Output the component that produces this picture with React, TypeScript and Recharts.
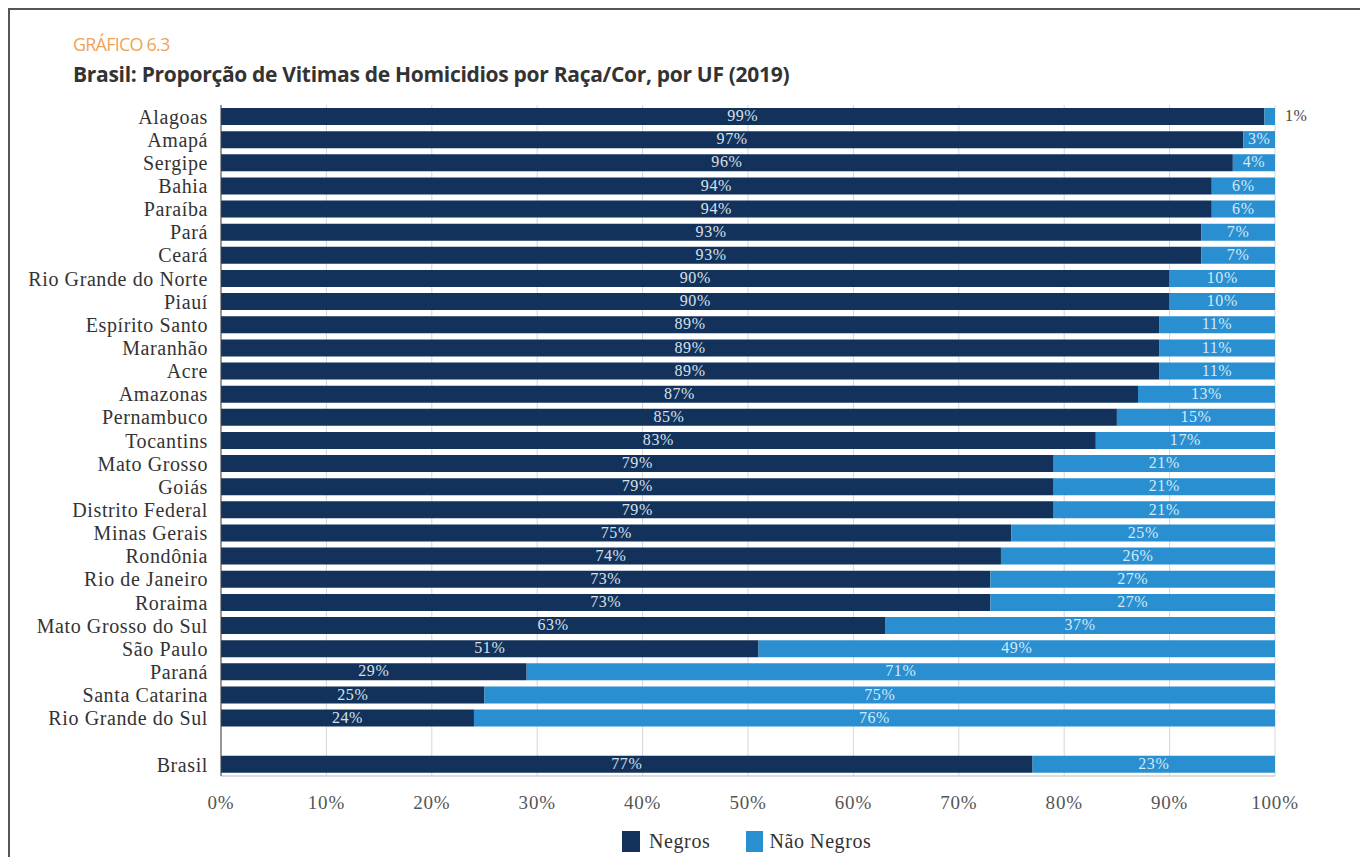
import { BarChart, Bar, XAxis, YAxis, CartesianGrid, LabelList } from "recharts";

const estados = [
  "Alagoas", "Amapá", "Sergipe", "Bahia", "Paraíba", "Pará", "Ceará",
  "Rio Grande do Norte", "Piauí", "Espírito Santo", "Maranhão", "Acre",
  "Amazonas", "Pernambuco", "Tocantins", "Mato Grosso", "Goiás",
  "Distrito Federal", "Minas Gerais", "Rondônia", "Rio de Janeiro",
  "Roraima", "Mato Grosso do Sul", "São Paulo", "Paraná",
  "Santa Catarina", "Rio Grande do Sul", "", "Brasil",
];

const negros = [
  99, 97, 96, 94, 94, 93, 93, 90, 90, 89, 89, 89, 87, 85, 83, 79, 79, 79,
  75, 74, 73, 73, 63, 51, 29, 25, 24, null, 77,
];

const naoNegros = [
  1, 3, 4, 6, 6, 7, 7, 10, 10, 11, 11, 11, 13, 15, 17, 21, 21, 21, 25, 26,
  27, 27, 37, 49, 71, 75, 76, null, 23,
];

const xTicks = [0, 10, 20, 30, 40, 50, 60, 70, 80, 90, 100];

const data = estados.map((uf, i) => ({
  uf,
  negros: negros[i],
  naoNegros: naoNegros[i],
}));

const DARK = "#12325b";
const LIGHT = "#2a8fd0";
const SERIF = "'Liberation Serif', 'Times New Roman', serif";

const labelNegros = (props: any) => {
  const { x, y, width, height, value } = props;
  if (value == null) return null;
  return (
    <text
      x={x + width / 2}
      y={y + height / 2 + 1}
      textAnchor="middle"
      dominantBaseline="middle"
      fill="#d8e0ea"
      fontSize={16}
      letterSpacing={0.6}
      fontFamily={SERIF}
    >
      {value}%
    </text>
  );
};

const labelNaoNegros = (props: any) => {
  const { x, y, width, height, value } = props;
  if (value == null) return null;
  const fora = value < 2;
  return (
    <text
      x={fora ? x + width + 10 : x + width / 2}
      y={y + height / 2 + 1}
      textAnchor={fora ? "start" : "middle"}
      dominantBaseline="middle"
      fill={fora ? "#444" : "#d3e9f8"}
      fontSize={16}
      letterSpacing={0.6}
      fontFamily={SERIF}
    >
      {value}%
    </text>
  );
};

export default function App() {
  return (
    <div
      style={{
        position: "absolute",
        left: 0,
        top: 0,
        width: 1360,
        height: 857,
        background: "#fff",
        overflow: "hidden",
      }}
    >
      <div
        style={{
          position: "absolute",
          left: 8,
          top: 8,
          width: 1360,
          height: 860,
          borderLeft: "2px solid #555",
          borderTop: "2px solid #555",
        }}
      />
      <div
        style={{
          position: "absolute",
          left: 73,
          top: 32,
          fontFamily: "'Open Sans', sans-serif",
          fontSize: 18,
          color: "#f0a35a",
          letterSpacing: -0.8,
        }}
      >
        GRÁFICO 6.3
      </div>
      <div
        style={{
          position: "absolute",
          left: 73,
          top: 60,
          fontFamily: "'Open Sans', sans-serif",
          fontSize: 21,
          fontWeight: 700,
          color: "#333",
          letterSpacing: -0.3,
        }}
      >
        Brasil: Proporção de Vitimas de Homicidios por Raça/Cor, por UF (2019)
      </div>

      <div style={{ position: "absolute", left: 0, top: 0 }}>
        <BarChart
          width={1360}
          height={857}
          data={data}
          layout="vertical"
          margin={{ top: 105, right: 85, bottom: 51, left: 0 }}
          barCategoryGap={3}
        >
          <CartesianGrid horizontal={false} stroke="#d6d6d6" />
          <XAxis
            type="number"
            domain={[0, 100]}
            ticks={xTicks}
            tickFormatter={(v) => `${v}%`}
            axisLine={{ stroke: "#bbb" }}
            tickLine={false}
            tickMargin={14}
            height={30}
            tick={{ fontFamily: SERIF, fontSize: 19, fill: "#555", letterSpacing: 0.8 }}
          />
          <YAxis
            type="category"
            dataKey="uf"
            width={221}
            axisLine={{ stroke: "#444" }}
            tickLine={false}
            tickSize={0}
            tickMargin={13}
            interval={0}
            tick={{ fontFamily: SERIF, fontSize: 20, fill: "#333", letterSpacing: 0.6 }}
          />
          <Bar dataKey="negros" stackId="a" fill={DARK} isAnimationActive={false}>
            <LabelList dataKey="negros" content={labelNegros} />
          </Bar>
          <Bar dataKey="naoNegros" stackId="a" fill={LIGHT} isAnimationActive={false}>
            <LabelList dataKey="naoNegros" content={labelNaoNegros} />
          </Bar>
        </BarChart>
      </div>

      <div
        style={{
          position: "absolute",
          left: 622,
          top: 830,
          display: "flex",
          alignItems: "center",
          fontFamily: SERIF,
          fontSize: 20,
          letterSpacing: 0.6,
          color: "#333",
        }}
      >
        <span style={{ width: 18, height: 21, background: DARK, display: "inline-block", marginRight: 9 }} />
        <span style={{ marginRight: 36 }}>Negros</span>
        <span style={{ width: 17, height: 21, background: LIGHT, display: "inline-block", marginRight: 6 }} />
        <span>Não Negros</span>
      </div>
    </div>
  );
}
